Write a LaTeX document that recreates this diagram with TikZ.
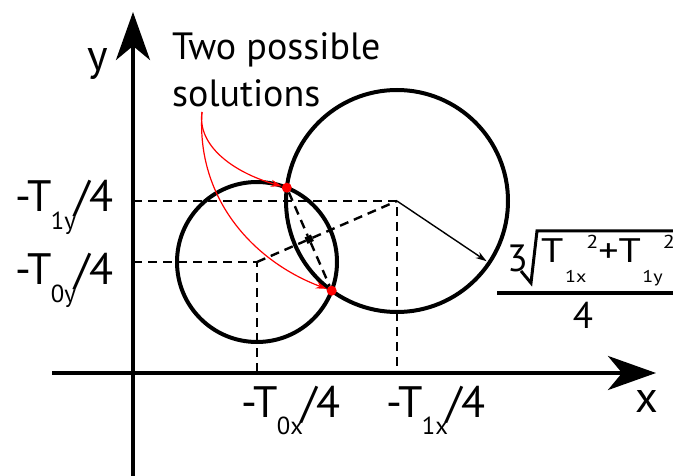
\documentclass[tikz,border=0pt]{standalone}
\usepackage{fontspec}
\setmainfont{PT Sans}
\usepackage{graphicx}
\usetikzlibrary{calc}
\usetikzlibrary{arrows.meta}

% lowered / raised small text, as the labels print them
\newcommand{\lowsub}[1]{\kern-0.02em\raisebox{-0.40em}{\scalebox{0.56}{#1}}\kern-0.04em}
\newcommand{\deepsub}[1]{\kern0.04em\raisebox{-0.58em}{\scalebox{0.5}{#1}}}
\newcommand{\highsup}[1]{\raisebox{0.42em}{\scalebox{0.55}{#1}}}

\begin{document}
\begin{tikzpicture}[x=1pt, y=-1pt, >={Stealth[length=11pt, width=7pt]},
  axis/.style={line width=4pt, -{Stealth[length=48pt, width=34pt, inset=14pt]}},
  guide/.style={line width=1.4pt, dash pattern=on 9pt off 6pt},
  ring/.style={line width=4pt},
  hit/.style={circle, fill=red, inner sep=0pt, minimum size=10pt},
  pointer/.style={red, line width=1.2pt, ->},
  big/.style={font=\fontsize{44}{50}\selectfont, inner sep=0pt},
  note/.style={font=\fontsize{38}{46}\selectfont, inner sep=0pt}]
  \useasboundingbox (0,0) rectangle (673,476);
  \clip (0,0) rectangle (673,476);
  % ---------------------------------------------------------------- axes and centres
  \coordinate (origin) at (133,373);
  \coordinate (xstart) at (52,373);
  \coordinate (xend) at (656,373);
  \coordinate (ystart) at (133,480);
  \coordinate (yend) at (133,12);
  \coordinate (c0) at (257,262);
  \coordinate (c1) at (397,201);
  % projections of the two centres
  \draw[guide] (origin |- c1) -- (c1) -- (c1 |- origin);
  \draw[guide] (origin |- c0) -- (c0) -- (c0 |- origin);
  % the two circles
  \draw[ring] (c0) circle[radius=80];
  \draw[ring] (c1) circle[radius=111];
  % where they cross
  \node[hit] (upper) at (286.8,187.7) {};
  \node[hit] (lower) at (331.7,290.7) {};
  \node[fill=black, rotate=25, minimum size=7pt, inner sep=0pt] (mid) at (309.2,239.2) {};
  \draw[guide, line width=2.4pt] (c0) -- (mid) -- (c1);
  \draw[guide, line width=2.4pt] (upper) -- (mid) -- (lower);
  % radius of the larger circle
  \coordinate (rim) at ($(c1)+(89.6,60.2)$);
  \draw[->, line width=1.4pt] (c1) -- (rim);
  % ---------------------------------------------------------------- the note
  \node[note, anchor=base west] (two) at (172,60) {Two possible};
  \node[note, anchor=base west] (sol) at (172,107) {solutions};
  \coordinate (solfoot) at (202,112);
  \draw[pointer] (solfoot) .. controls (197,145) and (232,172) .. (upper);
  \draw[pointer] (solfoot) .. controls (196,200) and (255,262) .. (lower);
  % ---------------------------------------------------------------- axis labels
  \node[big, anchor=base west] (ty1) at (15,212) {-T\lowsub{1y}/4};
  \node[big, anchor=base west] (ty0) at (15,285) {-T\lowsub{0y}/4};
  \node[big, anchor=base west] (tx0) at (241,417) {-T\lowsub{0x}/4};
  \node[big, anchor=base west] (tx1) at (386,417) {-T\lowsub{1x}/4};
  \node[big, anchor=base] (ylab) at (98,71) {y};
  \node[big, anchor=base] (xlab) at (647,412) {x};
  % ---------------------------------------------------------------- the radius, as a fraction
  \node[font=\fontsize{38}{40}\selectfont, inner sep=0pt, anchor=base west] (three) at (507,272) {3};
  \node[font=\fontsize{34}{36}\selectfont, inner sep=0pt, anchor=base west] (radicand) at (541,263)
    {\scalebox{1.18}[1]{T\deepsub{1x}\highsup{2}+T\deepsub{1y}\highsup{2}}};
  \node[font=\fontsize{37}{40}\selectfont, inner sep=0pt, anchor=base] (four) at (583,328) {4};
  \draw[line width=3pt, line join=miter] (521,271) -- (531,283) -- (537,231) -- (690,231);
  \draw[line width=3.5pt] (497,293) -- (690,293);
  % ---------------------------------------------------------------- axes on top
  \draw[axis] (xstart) -- (xend);
  \draw[axis] (ystart) -- (yend);
\end{tikzpicture}
\end{document}
